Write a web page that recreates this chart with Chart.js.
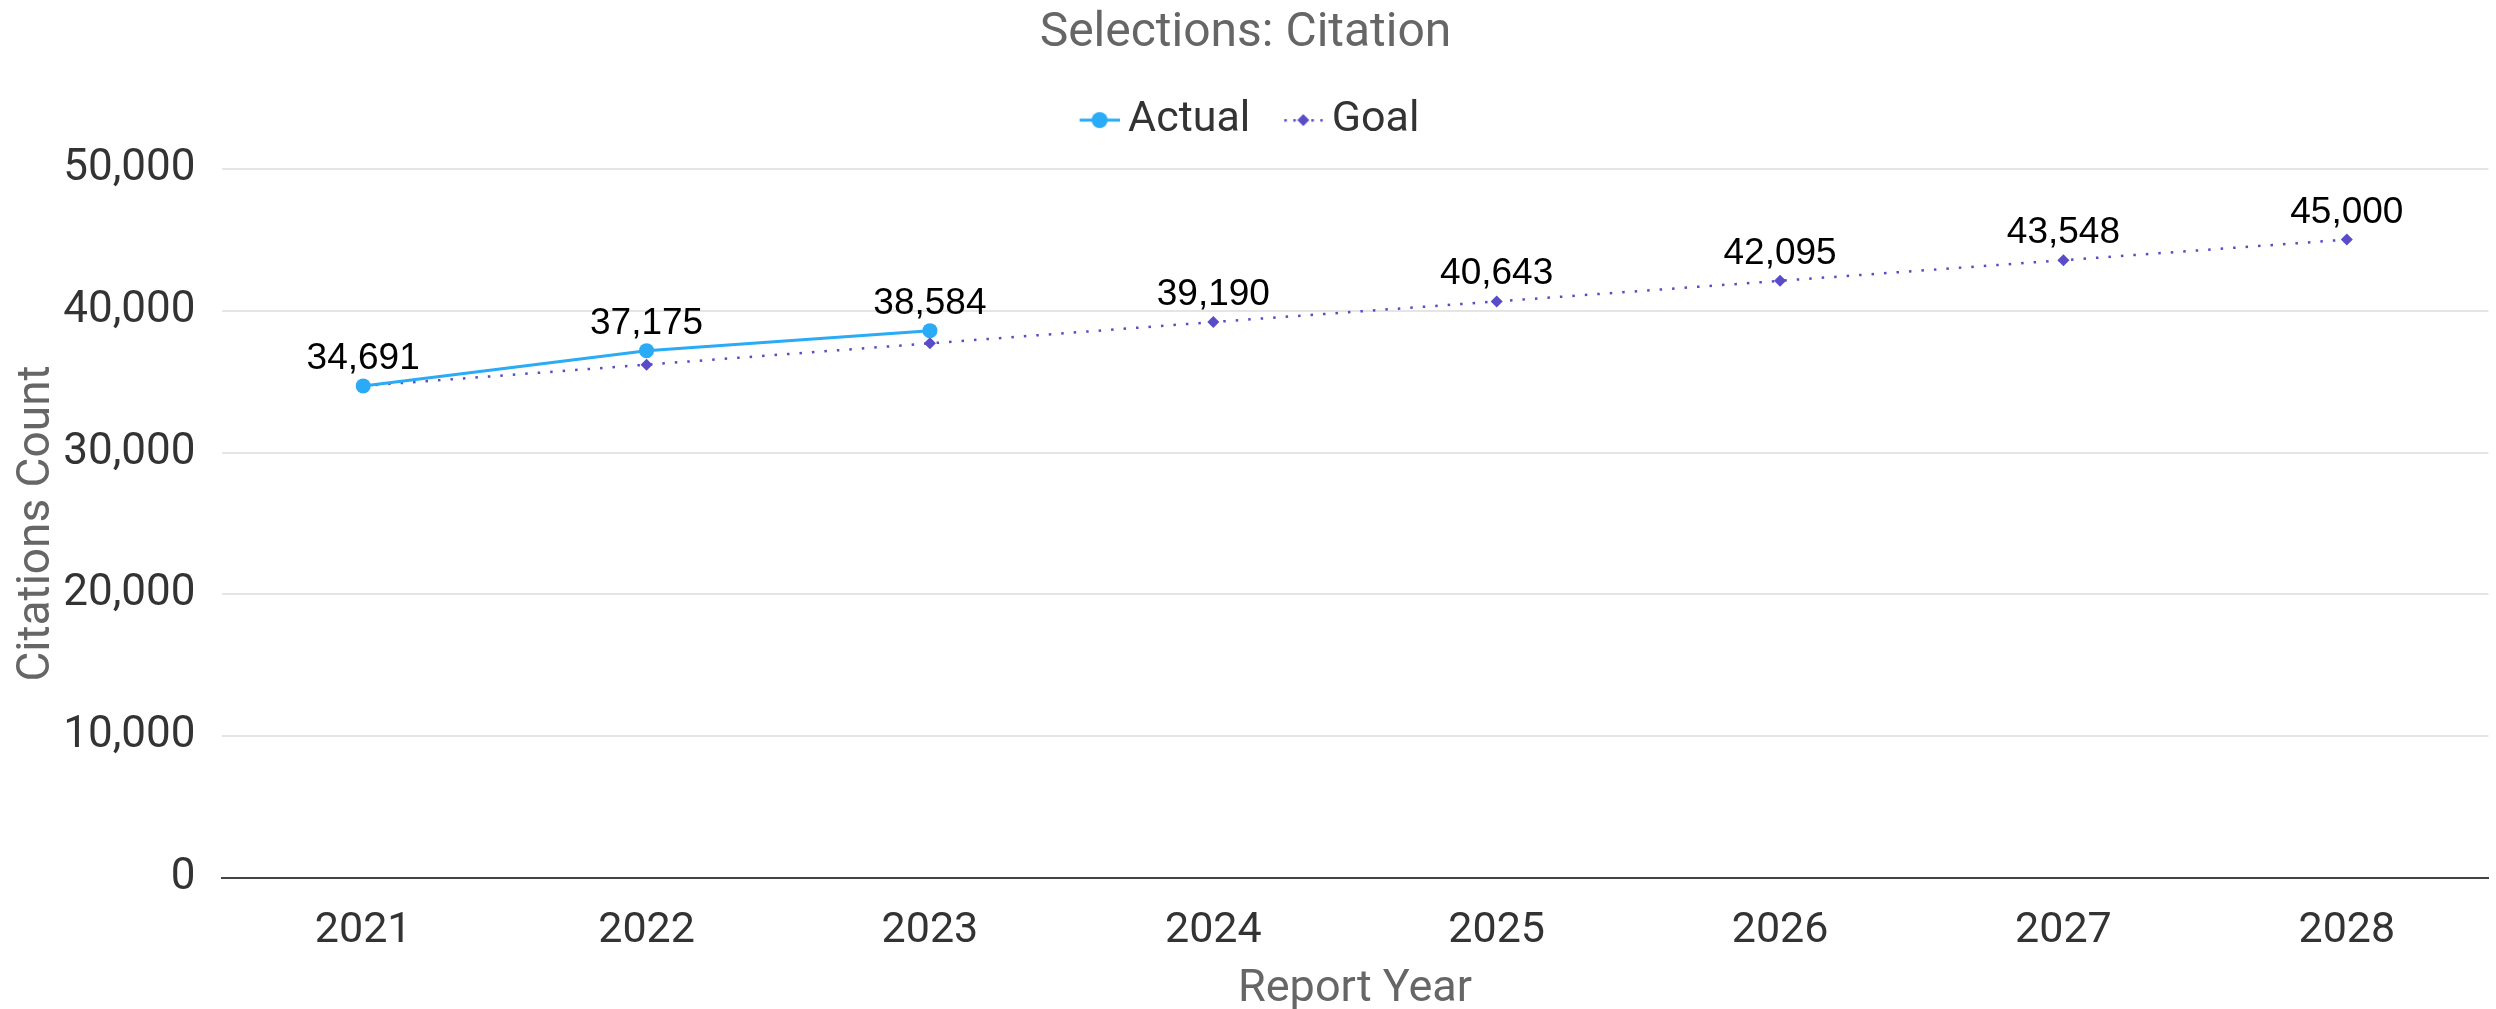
<!DOCTYPE html>
<html>
<head>
<meta charset="utf-8">
<title>Selections: Citation</title>
<script src="https://cdn.jsdelivr.net/npm/chart.js@4.4.1/dist/chart.umd.min.js"></script>
<style>
  html, body { margin: 0; padding: 0; background: #ffffff; }
  #wrap { width: 2496px; height: 1009px; position: relative; }
</style>
</head>
<body>
<div id="wrap"><canvas id="chart"></canvas></div>
<script>
// Report years on the x axis
const years = ['2021', '2022', '2023', '2024', '2025', '2026', '2027', '2028'];
// Reported citation counts (only years reported so far)
const actualValues = [34691, 37175, 38584, null, null, null, null, null];
// Goal trajectory
const goalValues = [34691, 36190, 37690, 39190, 40643, 42095, 43548, 45000];
// Y axis ticks
const yTicks = [0, 10000, 20000, 30000, 40000, 50000];

const ACTUAL_COLOR = '#2aabf6';
const GOAL_COLOR = '#5a4bc8';

const fmt = new Intl.NumberFormat('en-US');

// Legend icons: a line segment with the series marker in the middle,
// drawn at the right of a wider transparent canvas so the legend keeps
// a small gap before the text and a larger gap between items.
const ICON_W = 61;
function legendIcon(kind) {
  const c = document.createElement('canvas');
  c.width = ICON_W; c.height = 20;
  const g = c.getContext('2d');
  const x0 = ICON_W - 40;
  if (kind === 'actual') {
    g.strokeStyle = ACTUAL_COLOR; g.lineWidth = 3;
    g.beginPath(); g.moveTo(x0, 10); g.lineTo(x0 + 40, 10); g.stroke();
    g.fillStyle = ACTUAL_COLOR;
    g.beginPath(); g.arc(x0 + 20, 10, 8, 0, Math.PI * 2); g.fill();
  } else {
    g.fillStyle = GOAL_COLOR;
    [1, 10, 28, 37].forEach(x => g.fillRect(x0 + x, 9, 2.5, 2.5));
    g.beginPath();
    g.moveTo(x0 + 20, 4); g.lineTo(x0 + 26, 10); g.lineTo(x0 + 20, 16); g.lineTo(x0 + 14, 10);
    g.closePath(); g.fill();
  }
  return c;
}
const icons = { actual: legendIcon('actual'), goal: legendIcon('goal') };

// Value labels above points: Actual where reported, Goal for the remaining years
const valueLabels = {
  id: 'valueLabels',
  afterDatasetsDraw(chart) {
    const ctx = chart.ctx;
    ctx.save();
    ctx.font = '37px "Liberation Sans", Arial, sans-serif';
    ctx.fillStyle = '#000000';
    ctx.textAlign = 'center';
    ctx.textBaseline = 'alphabetic';
    chart.data.datasets.forEach((ds, di) => {
      const meta = chart.getDatasetMeta(di);
      meta.data.forEach((pt, i) => {
        const v = ds.data[i];
        if (v == null) return;
        const show = di === 0 ? true : actualValues[i] == null;
        if (!show) return;
        ctx.fillText(fmt.format(v), pt.x, pt.y - 17);
      });
    });
    ctx.restore();
  }
};

new Chart(document.getElementById('chart'), {
  type: 'line',
  data: {
    labels: years,
    datasets: [
      {
        label: 'Actual',
        data: actualValues,
        borderColor: ACTUAL_COLOR,
        backgroundColor: ACTUAL_COLOR,
        borderWidth: 3,
        pointStyle: 'circle',
        pointRadius: 7.5,
        pointHoverRadius: 7.5,
        pointBorderWidth: 0,
        spanGaps: false,
        tension: 0,
        order: 0
      },
      {
        label: 'Goal',
        data: goalValues,
        borderColor: GOAL_COLOR,
        backgroundColor: GOAL_COLOR,
        borderWidth: 2.5,
        borderDash: [2.5, 10],
        borderCapStyle: 'butt',
        pointStyle: 'rectRot',
        pointRadius: 6,
        pointHoverRadius: 6,
        pointBorderWidth: 0,
        tension: 0,
        order: 1
      }
    ]
  },
  options: {
    responsive: true,
    maintainAspectRatio: false,
    animation: false,
    layout: { padding: { left: 0, right: 5, top: 0, bottom: 0 } },
    plugins: {
      tooltip: { enabled: false },
      title: {
        display: true,
        text: 'Selections: Citation',
        color: '#666666',
        font: { family: 'Roboto', size: 48, weight: 'normal' },
        padding: { top: 5, bottom: 11 }
      },
      // empty block placed under the legend to space it from the plot
      subtitle: {
        display: true,
        text: '',
        weight: 500,
        font: { size: 10, lineHeight: 1 },
        padding: { top: 7, bottom: 0 }
      },
      legend: {
        display: true,
        position: 'top',
        align: 'center',
        labels: {
          usePointStyle: true,
          pointStyleWidth: 35,
          boxHeight: 20,
          padding: 25,
          color: '#333333',
          font: { family: 'Roboto', size: 43 },
          generateLabels(chart) {
            return chart.data.datasets.map((ds, i) => ({
              text: ds.label,
              fillStyle: ds.borderColor,
              strokeStyle: ds.borderColor,
              fontColor: '#333333',
              lineWidth: 0,
              pointStyle: i === 0 ? icons.actual : icons.goal,
              hidden: false,
              datasetIndex: i
            }));
          }
        }
      }
    },
    scales: {
      x: {
        type: 'category',
        offset: true,
        grid: { display: false, drawTicks: false },
        border: { display: true, color: '#444444', width: 2 },
        ticks: {
          color: '#333333',
          font: { family: 'Roboto', size: 43 },
          padding: 27,
          maxRotation: 0
        },
        title: {
          display: true,
          text: 'Report Year',
          color: '#666666',
          font: { family: 'Roboto', size: 45 },
          padding: { top: -21, bottom: -8 }
        }
      },
      y: {
        min: yTicks[0],
        max: yTicks[yTicks.length - 1],
        afterBuildTicks(axis) { axis.ticks = yTicks.map(v => ({ value: v })); },
        grid: { color: '#e5e5e5', lineWidth: 2, drawTicks: false },
        border: { display: false },
        ticks: {
          color: '#333333',
          font: { family: 'Roboto', size: 44 },
          padding: 26,
          callback: v => fmt.format(v)
        },
        title: {
          display: true,
          text: 'Citations Count',
          color: '#666666',
          font: { family: 'Roboto', size: 46 },
          padding: { top: 10, bottom: -28 }
        }
      }
    }
  },
  plugins: [valueLabels]
});
</script>
</body>
</html>
